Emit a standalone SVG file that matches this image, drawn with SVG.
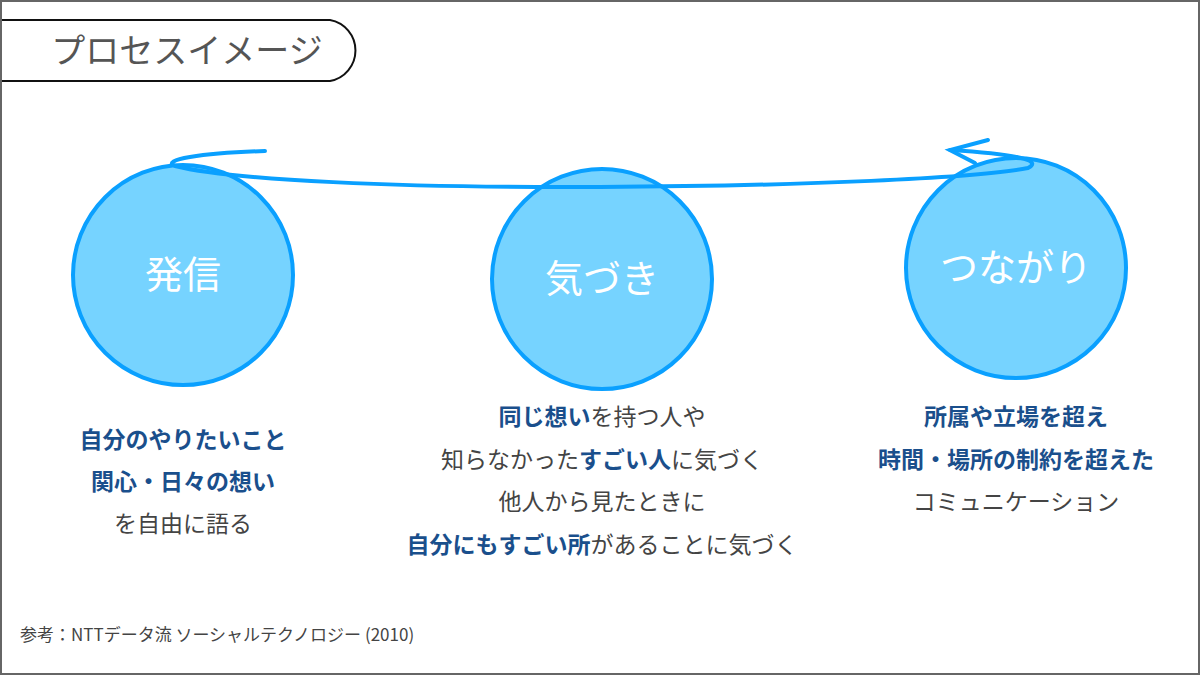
<svg xmlns="http://www.w3.org/2000/svg" width="1200" height="675" viewBox="0 0 1200 675">
<style>
.c{fill:#76d3ff;stroke:#0aa0ff;stroke-width:4}
.ct{font-family:"Noto Sans CJK JP",sans-serif;font-size:38px;fill:#fff;text-anchor:middle}
.t{font-family:"Noto Sans CJK JP",sans-serif;font-size:23px;fill:#444;text-anchor:middle}
.b{font-weight:bold;fill:#1a4f8c}
.ln{fill:none;stroke:#0aa0ff;stroke-width:4;stroke-linecap:round}
</style>
<rect x="1" y="1" width="1198" height="673" fill="#fff" stroke="#666" stroke-width="2"/>
<path d="M2 20 H330 A31 31 0 0 1 330 81 H2" fill="#fff" stroke="#111" stroke-width="2"/>
<text x="187" y="63" font-family="Noto Sans CJK JP,sans-serif" font-size="34" fill="#555" text-anchor="middle">プロセスイメージ</text>
<g id="n1"><circle class="c" cx="183" cy="275" r="110"/><text class="ct" x="183" y="288">発信</text></g>
<g id="n2"><circle class="c" cx="602" cy="279" r="110"/><text class="ct" x="602" y="292">気づき</text></g>
<g id="n3"><circle class="c" cx="1016" cy="268" r="110"/><text class="ct" x="1016" y="281">つながり</text></g>
<g id="connectors">
<path class="ln" d="M265 151 C200 153 160 160 175 166 C230 180 400 188 600 187 C800 186 980 178 1028 168 C1040 162 1030 155 950 150" stroke-width="4"/>
<path class="ln" d="M988 140 L950 150 L975 163"/>
</g>
<text class="t" x="183" y="448"><tspan class="b">自分のやりたいこと</tspan></text>
<text class="t" x="183" y="490"><tspan class="b">関心・日々の想い</tspan></text>
<text class="t" x="183" y="532">を自由に語る</text>
<text class="t" x="602" y="425"><tspan class="b">同じ想い</tspan>を持つ人や</text>
<text class="t" x="602" y="468">知らなかった<tspan class="b">すごい人</tspan>に気づく</text>
<text class="t" x="602" y="510">他人から見たときに</text>
<text class="t" x="602" y="553"><tspan class="b">自分にもすごい所</tspan>があることに気づく</text>
<text class="t" x="1016" y="425"><tspan class="b">所属や立場を超え</tspan></text>
<text class="t" x="1016" y="468"><tspan class="b">時間・場所の制約を超えた</tspan></text>
<text class="t" x="1016" y="510">コミュニケーション</text>
<text x="20" y="641" font-family="Noto Sans CJK JP,sans-serif" font-size="17" fill="#444">参考：NTTデータ流 ソーシャルテクノロジー (2010)</text>
</svg>
